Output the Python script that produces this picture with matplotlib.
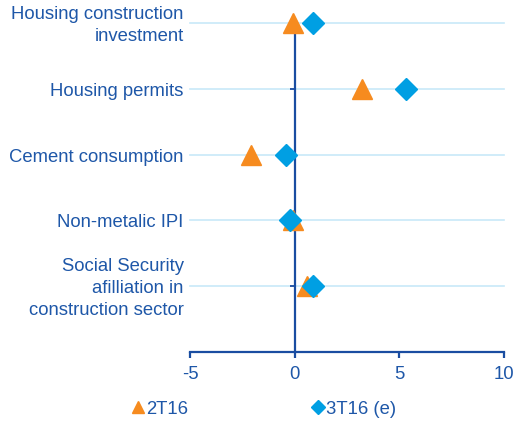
import matplotlib
matplotlib.use('Agg')
import matplotlib.pyplot as plt
from matplotlib.lines import Line2D
from matplotlib.transforms import offset_copy

plt.rcParams['font.family'] = ['Liberation Sans', 'DejaVu Sans']

# categories from top to bottom
categories = ['Housing construction\ninvestment', 'Housing permits',
              'Cement consumption', 'Non-metalic IPI',
              'Social Security\nafilliation in\nconstruction sector']
positions = [5, 4, 3, 2, 1]
vals_2t16 = [-0.1, 3.2, -2.1, -0.1, 0.6]
vals_3t16 = [0.9, 5.3, -0.4, -0.2, 0.9]
xticks = [-5, 0, 5, 10]
series_names = ['2T16', '3T16 (e)']

ORANGE = '#F68B1F'
BLUE = '#009FE3'
NAVY = '#1A4DA1'
TEXT = '#1E57A8'
GRID = '#C8E9F8'
FS = 13.3

fig = plt.figure(figsize=(5.16, 4.24), dpi=100)
ax = fig.add_axes([0.3682, 0.1698, 0.6085, 0.776])

ax.set_xlim(-5, 10)
ax.set_ylim(0, 5)

for y in positions:
    ax.axhline(y, color=GRID, lw=1.2, zorder=1, clip_on=False)

ax.plot(vals_2t16, positions, linestyle='none', marker='^', ms=15,
        color=ORANGE, zorder=4, clip_on=False)
ax.plot(vals_3t16, positions, linestyle='none', marker='D', ms=11,
        color=BLUE, zorder=5, clip_on=False)

# axes: bottom spine and a vertical axis crossing at zero
for s in ['top', 'right']:
    ax.spines[s].set_visible(False)
ax.spines['bottom'].set_color(NAVY)
ax.spines['bottom'].set_linewidth(1.6)
ax.spines['left'].set_position(('data', 0))
ax.spines['left'].set_color(NAVY)
ax.spines['left'].set_linewidth(1.6)
ax.spines['left'].set_zorder(3)

ax.set_xticks(xticks)
ax.set_xticklabels([str(t) for t in xticks])
ax.tick_params(axis='x', direction='out', length=4, width=1.6, color=NAVY,
               labelcolor=TEXT, labelsize=FS, pad=6)
ax.set_yticks(positions)
ax.set_yticklabels([])
ax.tick_params(axis='y', direction='out', length=3.5, width=1.3, color=NAVY)

# category labels sit at the far left, not next to the zero axis
lab_trans = offset_copy(ax.get_yaxis_transform(), fig=fig, y=-2.5, units='dots')
for lab, y in zip(categories, positions):
    ax.text(-0.02, y, lab, transform=lab_trans, ha='right',
            va='center', color=TEXT, fontsize=FS, linespacing=1.4)

handles = [Line2D([], [], linestyle='none', marker='^', ms=9, color=ORANGE),
           Line2D([], [], linestyle='none', marker='D', ms=7, color=BLUE)]
leg = fig.legend(handles, series_names, loc='center left',
                 bbox_to_anchor=(0.225, 0.035), ncol=2, frameon=False,
                 handlelength=0.6, handletextpad=0.15, columnspacing=6.7,
                 fontsize=FS)
for t in leg.get_texts():
    t.set_color(TEXT)

fig.savefig('out.png', dpi=100)
